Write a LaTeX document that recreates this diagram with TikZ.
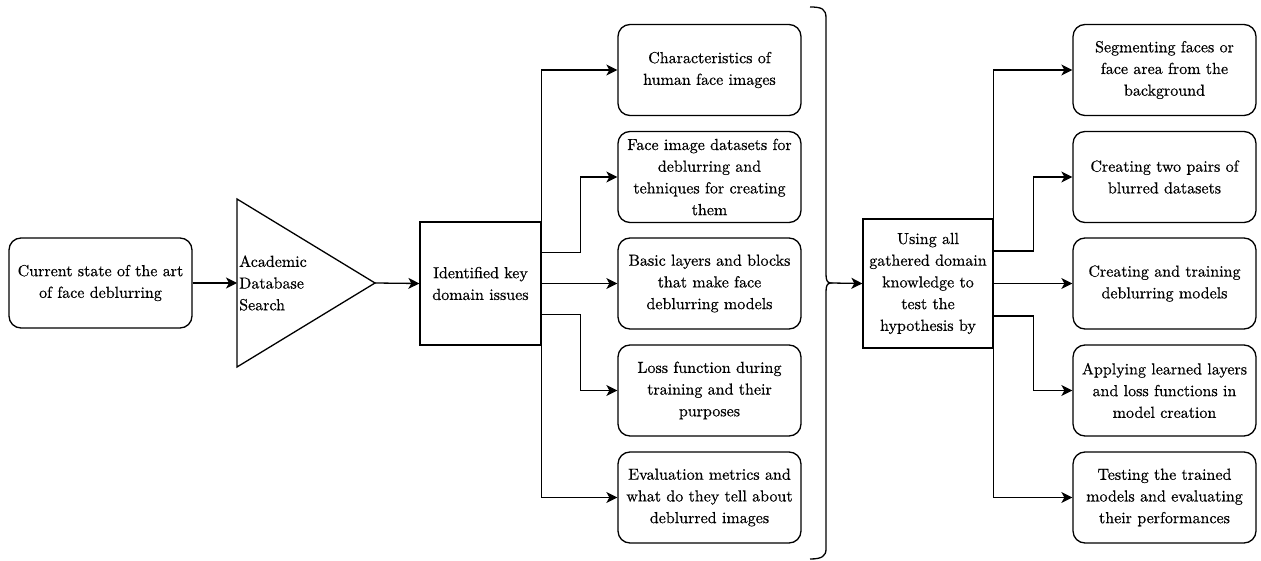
\documentclass[tikz,border=0pt]{standalone}
\usepackage{fontspec}
\newfontfamily\lmten{lmroman10-regular.otf}[BoldFont=lmroman10-regular.otf, BoldFeatures={FakeBold=0.5}]
\usetikzlibrary{arrows.meta,calc}
\tikzset{
  txt/.style={font=\lmten\bfseries\fontsize{16}{21.7}\selectfont, text=black},
  base/.style={draw=black, line width=1.3pt, align=center, inner sep=2pt, txt},
  rbox/.style={base, rounded corners=12pt, minimum width=183pt, minimum height=91pt},
  sbox/.style={base},
  conn/.style={draw=black, line width=1.3pt, -{Stealth[length=11pt,width=11pt,inset=3pt]}},
  plain/.style={draw=black, line width=1.3pt},
}
\begin{document}
\begin{tikzpicture}[x=1pt,y=-1pt]
\useasboundingbox (0,0) rectangle (1261,561);

% left part
\node[rbox, minimum height=90pt] (cur) at (100.5,283) {Current state of the art\\of face deblurring};
\draw[plain, line join=miter] (237,199) -- (375,283) -- (237,367) -- cycle;
\coordinate (triL) at (237,283);
\coordinate (triR) at (375,283);
\node[anchor=west, align=left, inner sep=0pt, txt] (tritext) at (239,283) {Academic\\Database\\Search};
\node[sbox, minimum width=121pt, minimum height=123pt] (ident) at (480.5,283.5) {Identified key\\domain issues};

\draw[conn] (cur.east) -- (triL);
\draw[conn] (triR) -- (ident.west);

% middle column
\node[rbox] (m1) at (709.5,70) {Characteristics of\\human face images};
\node[rbox] (m2) at (709.5,177) {Face image datasets for\\deblurring and\\tehniques for creating\\them};
\node[rbox] (m3) at (709.5,283.5) {Basic layers and blocks\\that make face\\deblurring models};
\node[rbox] (m4) at (709.5,390.5) {Loss function during\\training and their\\purposes};
\node[rbox] (m5) at (709.5,497.5) {Evaluation metrics and\\what do they tell about\\deblurred images};

\draw[conn] (ident.north east) |- (m1.west);
\draw[conn] ($(ident.north east)!0.25!(ident.south east)$) -- ++(39,0) |- (m2.west);
\draw[conn] (ident.east) -- (m3.west);
\draw[conn] ($(ident.north east)!0.75!(ident.south east)$) -- ++(39,0) |- (m4.west);
\draw[conn] (ident.south east) |- (m5.west);

% brace
\coordinate (bt) at (831,283);
\draw[plain] (810,7) .. controls (822,7) and (826,9) .. (826,18) -- (826,274)
  .. controls (826,280) and (827,283) .. (bt)
  .. controls (827,283) and (826,286) .. (826,292) -- (826,549)
  .. controls (826,556) and (822,559) .. (810,559);

% using box
\node[sbox, minimum width=130pt, minimum height=129pt] (use) at (928,283.5) {Using all\\gathered domain\\knowledge to\\test the\\hypothesis by};
\draw[conn] (bt) -- (use.west);

% right column
\node[rbox] (r1) at (1164.5,70) {Segmenting faces or\\face area from the\\background};
\node[rbox] (r2) at (1164.5,177) {Creating two pairs of\\blurred datasets};
\node[rbox] (r3) at (1164.5,283.5) {Creating and training\\deblurring models};
\node[rbox] (r4) at (1164.5,390.5) {Applying learned layers\\and loss functions in\\model creation};
\node[rbox] (r5) at (1164.5,497.5) {Testing the trained\\models and evaluating\\their performances};

\draw[conn] (use.north east) |- (r1.west);
\draw[conn] ($(use.north east)!0.25!(use.south east)$) -- ++(40,0) |- (r2.west);
\draw[conn] (use.east) -- (r3.west);
\draw[conn] ($(use.north east)!0.75!(use.south east)$) -- ++(40,0) |- (r4.west);
\draw[conn] (use.south east) |- (r5.west);
\end{tikzpicture}
\end{document}
